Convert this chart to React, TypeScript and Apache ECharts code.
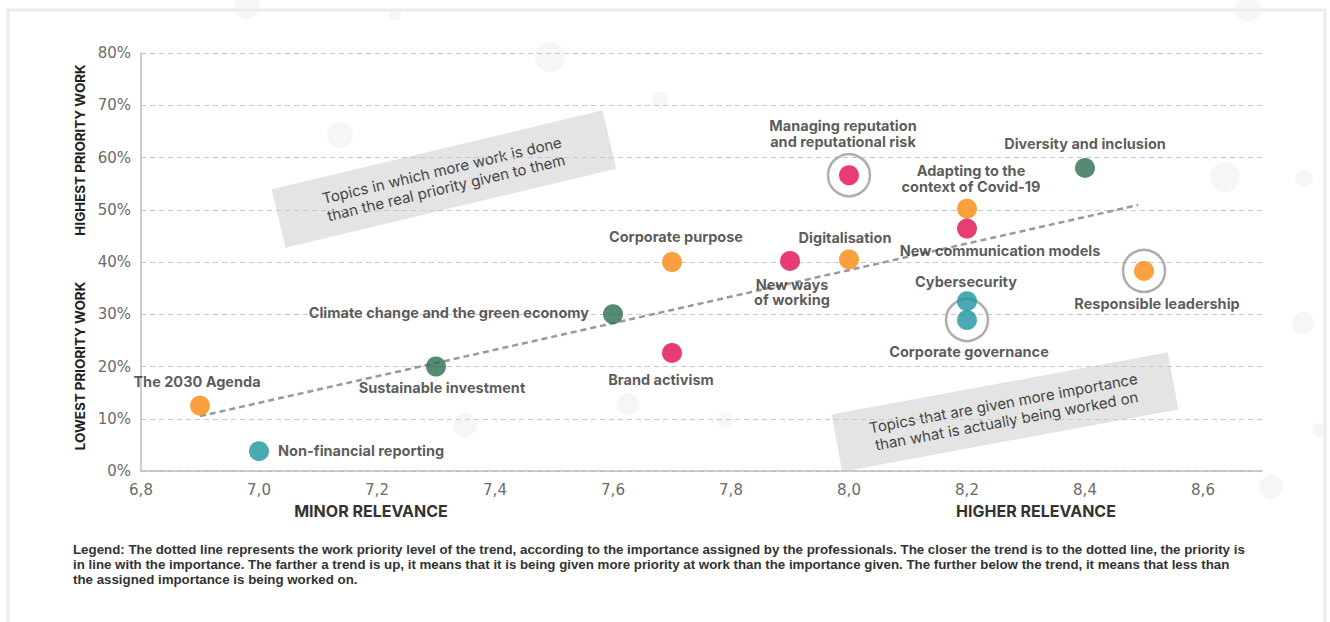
import React, { useEffect, useRef } from 'react';
import * as echarts from 'echarts';

// ---- Data ----
const topics = [
  'The 2030 Agenda',
  'Non-financial reporting',
  'Sustainable investment',
  'Climate change and the green economy',
  'Corporate purpose',
  'Brand activism',
  'New ways\nof working',
  'Digitalisation',
  'Managing reputation\nand reputational risk',
  'Adapting to the\ncontext of Covid-19',
  'New communication models',
  'Cybersecurity',
  'Corporate governance',
  'Diversity and inclusion',
  'Responsible leadership',
];
const relevance = [6.9, 7.0, 7.3, 7.6, 7.7, 7.7, 7.9, 8.0, 8.0, 8.2, 8.2, 8.2, 8.2, 8.4, 8.5];
const priority = [12.5, 3.8, 20.0, 30.0, 40.0, 22.6, 40.2, 40.5, 56.6, 50.2, 46.4, 32.5, 28.9, 58.0, 38.3];
const highlightedTopics = ['Managing reputation\nand reputational risk', 'Corporate governance', 'Responsible leadership'];
const trendRelevance = [6.9, 8.49];
const trendPriority = [10.5, 50.9];
const xAxisTitles = ['MINOR RELEVANCE', 'HIGHER RELEVANCE'];
const yAxisTitles = ['HIGHEST PRIORITY WORK', 'LOWEST PRIORITY WORK'];
const boxTexts = [
  'Topics in which more work is done\nthan the real priority given to them',
  'Topics that are given more importance\nthan what is actually being worked on',
];
const legendLines = [
  'Legend: The dotted line represents the work priority level of the trend, according to the importance assigned by the professionals. The closer the trend is to the dotted line, the priority is',
  'in line with the importance. The farther a trend is up, it means that it is being given more priority at work than the importance given. The further below the trend, it means that less than',
  'the assigned importance is being worked on.',
];

// ---- Styles ----
const ORANGE = '#F7890E';
const RED = '#E40B50';
const GREEN = '#2B6E4F';
const TEAL = '#1B95A0';
const pointColors = [ORANGE, TEAL, GREEN, GREEN, ORANGE, RED, RED, ORANGE, RED, ORANGE, RED, TEAL, TEAL, GREEN, ORANGE];
const labelStyles: { align: string; offset: number[] }[] = [
  { align: 'center', offset: [-3, -24] },
  { align: 'left', offset: [19, -1] },
  { align: 'center', offset: [6, 21] },
  { align: 'right', offset: [-24, -2] },
  { align: 'center', offset: [4, -26] },
  { align: 'center', offset: [-11, 27] },
  { align: 'center', offset: [2, 31] },
  { align: 'center', offset: [-4, -22] },
  { align: 'center', offset: [-6, -42] },
  { align: 'center', offset: [4, -30] },
  { align: 'center', offset: [33, 22] },
  { align: 'center', offset: [-1, -20] },
  { align: 'center', offset: [2, 32] },
  { align: 'center', offset: [0, -24] },
  { align: 'center', offset: [13, 33] },
];
// faint decorative background bubbles [x, y, r]
const bubbles = [
  [247, 6, 13], [340, 135, 13], [550, 57, 15], [1225, 177, 15], [1248, 9, 13],
  [1303, 323, 11], [1304, 178, 9], [628, 404, 11], [465, 425, 12], [1271, 487, 12],
  [395, 14, 6], [1320, 430, 7], [725, 420, 8], [660, 100, 8],
];

const FONT = "Inter, 'Open Sans', sans-serif";
const TICK_FONT = "'DejaVu Sans', sans-serif";
const DOT = 20;

export default function App() {
  const ref = useRef<HTMLDivElement>(null);

  useEffect(() => {
    if (!ref.current) return;
    const chart = echarts.init(ref.current, null, { renderer: 'svg' });

    const pointData = topics.map((t, i) => ({
      name: t,
      value: [relevance[i], priority[i]],
      itemStyle: { color: pointColors[i] },
      label: {
        show: true,
        position: [DOT / 2 + labelStyles[i].offset[0], DOT / 2 + labelStyles[i].offset[1]],
        align: labelStyles[i].align,
        verticalAlign: 'middle',
        formatter: '{b}',
        color: '#303030',
        fontFamily: FONT,
        fontWeight: 'bold',
        fontSize: 14.5,
        lineHeight: 15.5,
      },
    }));

    const ringData = highlightedTopics.map((t) => {
      const i = topics.indexOf(t);
      return { name: t, value: [relevance[i], priority[i]] };
    });

    const trendData = trendRelevance.map((x, i) => [x, trendPriority[i]]);

    const deg = Math.PI / 180;

    const bubbleGraphics = bubbles.map(([x, y, r]) => ({
      type: 'circle',
      shape: { cx: x, cy: y, r },
      style: { fill: '#f6f6f6' },
      z: -20,
      silent: true,
    }));

    chart.setOption({
      animation: false,
      backgroundColor: '#ffffff',
      grid: { left: 141, right: 68, top: 53, bottom: 151 },
      xAxis: {
        type: 'value',
        min: 6.8,
        max: 8.7,
        interval: 0.1,
        axisLine: { show: true, lineStyle: { color: '#bdbdbd', width: 1.5 } },
        axisTick: { show: false },
        splitLine: { show: false },
        axisLabel: {
          color: '#6b6b6b',
          fontFamily: TICK_FONT,
          fontSize: 15,
          margin: 11,
          showMaxLabel: false,
          formatter: (v: number) => {
            const k = Math.round(v * 10);
            if (k % 2 !== 0) return '';
            return (k / 10).toFixed(1).replace('.', ',');
          },
        },
      },
      yAxis: {
        type: 'value',
        min: 0,
        max: 80,
        interval: 10,
        axisLine: { show: true, lineStyle: { color: '#bdbdbd', width: 1.5 } },
        axisTick: { show: false },
        splitLine: { show: true, lineStyle: { color: '#c8c8c8', type: [5, 4], width: 1 } },
        axisLabel: {
          color: '#6b6b6b',
          fontFamily: TICK_FONT,
          fontSize: 15,
          margin: 10,
          formatter: '{value}%',
        },
      },
      series: [
        {
          type: 'line',
          data: trendData,
          symbol: 'none',
          lineStyle: { color: '#999999', width: 2.5, type: [6, 4] },
          z: 2,
          silent: true,
        },
        {
          type: 'scatter',
          data: ringData,
          symbol: 'circle',
          symbolSize: 42,
          itemStyle: { color: 'rgba(255,255,255,0)', borderColor: '#9a9a9a', borderWidth: 2.5 },
          z: 3,
          silent: true,
        },
        {
          type: 'scatter',
          data: pointData,
          symbol: 'circle',
          symbolSize: DOT,
          z: 4,
        },
      ],
      graphic: [
        ...bubbleGraphics,
        {
          type: 'rect',
          shape: { x: 8, y: 10, width: 1317, height: 640 },
          style: { fill: 'none', stroke: '#ebebeb', lineWidth: 3 },
          z: -10,
          silent: true,
        },
        {
          type: 'group',
          x: 444,
          y: 179,
          rotation: 13.4 * deg,
          z: 1,
          children: [
            { type: 'rect', shape: { x: -170, y: -30, width: 340, height: 60 }, style: { fill: '#e4e4e4' } },
            {
              type: 'text',
              x: 0,
              y: 0,
              style: {
                text: boxTexts[0],
                align: 'center',
                verticalAlign: 'middle',
                fill: '#444',
                font: `15px ${FONT}`,
                lineHeight: 18,
              },
            },
          ],
        },
        {
          type: 'group',
          x: 1005,
          y: 412,
          rotation: 10.5 * deg,
          z: 1,
          children: [
            { type: 'rect', shape: { x: -171, y: -29, width: 342, height: 58 }, style: { fill: '#e4e4e4' } },
            {
              type: 'text',
              x: 0,
              y: 0,
              style: {
                text: boxTexts[1],
                align: 'center',
                verticalAlign: 'middle',
                fill: '#444',
                font: `15px ${FONT}`,
                lineHeight: 18,
              },
            },
          ],
        },
        {
          type: 'text',
          x: 371,
          y: 511,
          style: { text: xAxisTitles[0], align: 'center', verticalAlign: 'middle', fill: '#333', font: `bold 16px ${FONT}` },
        },
        {
          type: 'text',
          x: 1036,
          y: 511,
          style: { text: xAxisTitles[1], align: 'center', verticalAlign: 'middle', fill: '#333', font: `bold 16px ${FONT}` },
        },
        {
          type: 'text',
          x: 80,
          y: 150,
          rotation: Math.PI / 2,
          style: { text: yAxisTitles[0], align: 'center', verticalAlign: 'middle', fill: '#222', font: `bold 13.4px ${FONT}` },
        },
        {
          type: 'text',
          x: 80,
          y: 366,
          rotation: Math.PI / 2,
          style: { text: yAxisTitles[1], align: 'center', verticalAlign: 'middle', fill: '#222', font: `bold 13.4px ${FONT}` },
        },
        ...legendLines.map((line, i) => ({
          type: 'text',
          x: 73,
          y: 549 + i * 15,
          style: {
            text: line,
            align: 'left',
            verticalAlign: 'middle',
            fill: '#333',
            font: `bold 13.3px 'Liberation Sans', Arial, sans-serif`,
            lineHeight: 14.5,
          },
        })),
      ],
    });

    return () => chart.dispose();
  }, []);

  return (
    <div
      ref={ref}
      style={{ position: 'fixed', left: 0, top: 0, width: 1330, height: 622, background: '#fff' }}
    />
  );
}
